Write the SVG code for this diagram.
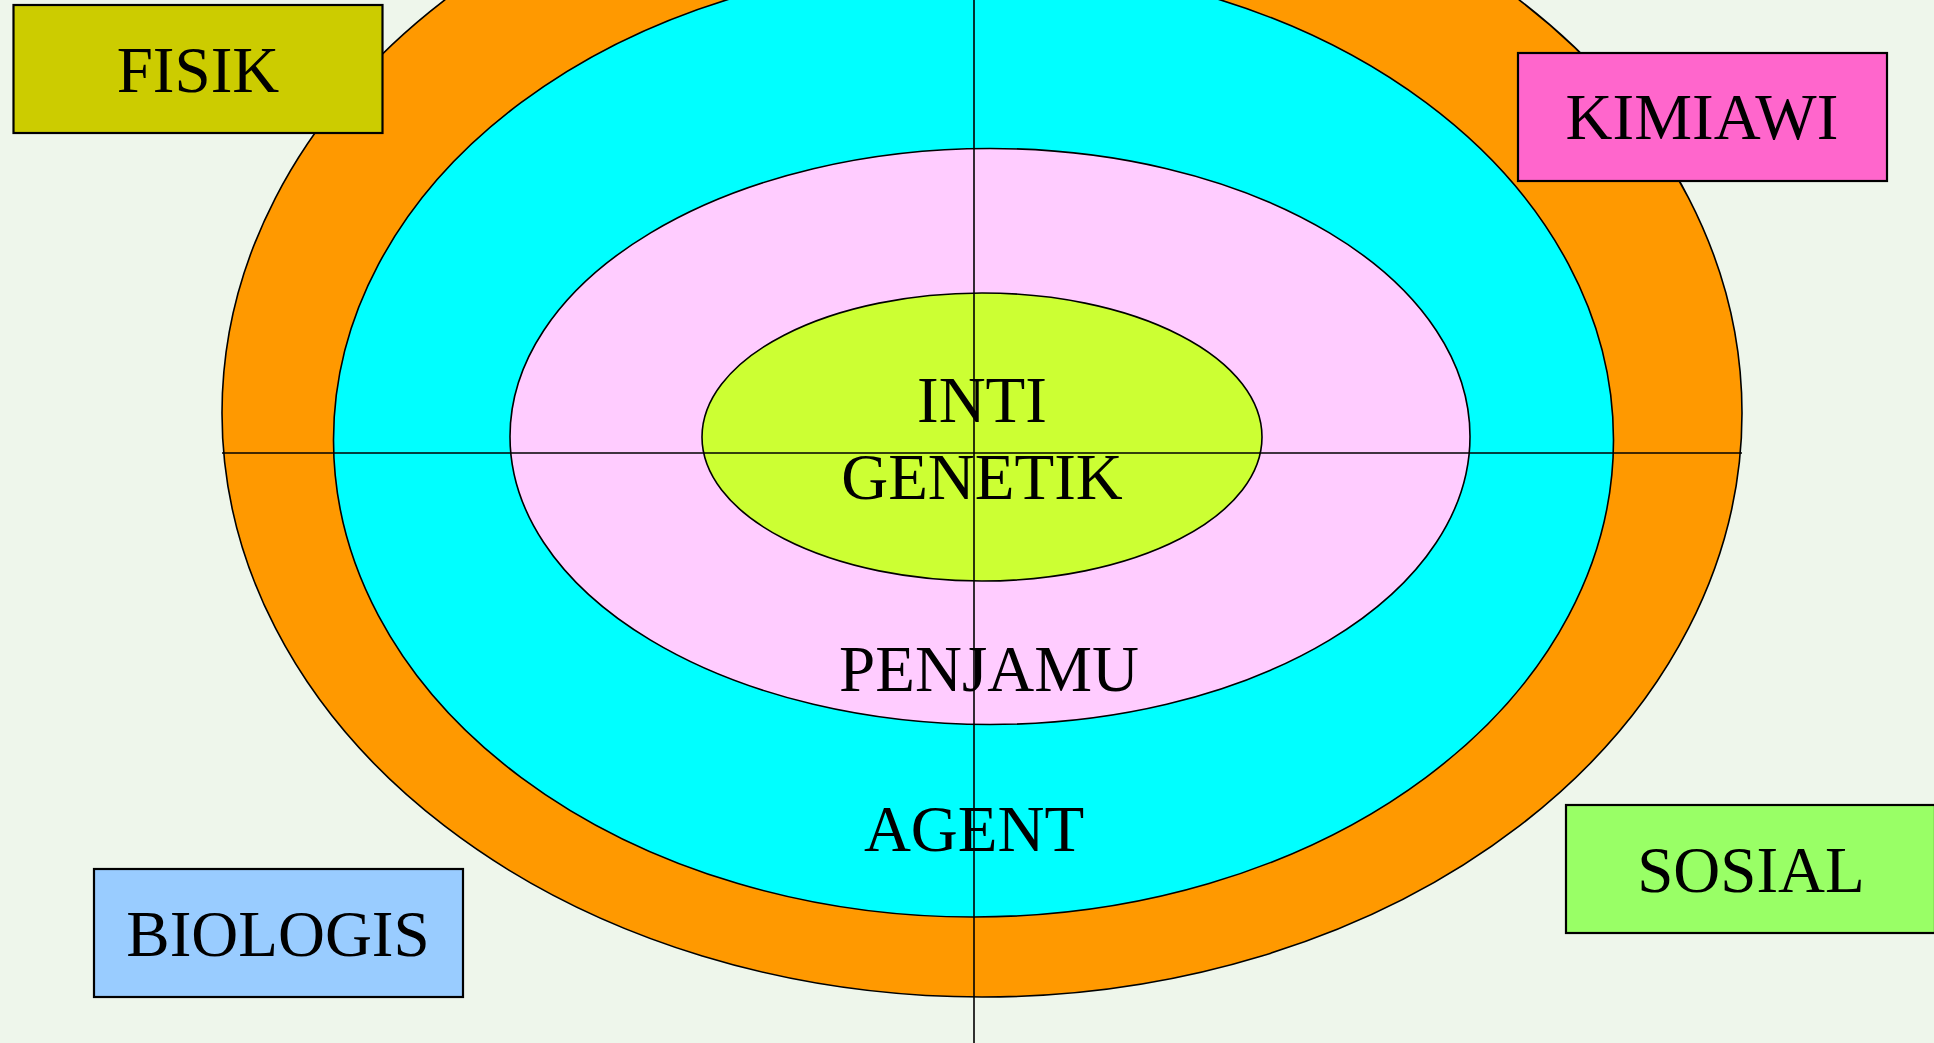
<svg xmlns="http://www.w3.org/2000/svg" width="1934" height="1043" viewBox="0 0 1934 1043">
<style>
.ring{stroke:#000;stroke-width:1.6}
.box{stroke:#000;stroke-width:2.2}
.t{font-family:"Liberation Serif","Times New Roman",serif;font-size:65px;fill:#000;text-anchor:middle}
.ln{stroke:#000;stroke-width:1.6;fill:none}
</style>
<rect x="0" y="0" width="1934" height="1043" fill="#EEF6EB"/>
<g id="rings">
<ellipse id="outer" class="ring" cx="982" cy="413" rx="760" ry="584" fill="#FF9900"/>
<ellipse id="agent" class="ring" cx="973.5" cy="440" rx="640" ry="477" fill="#00FFFF"/>
<ellipse id="penjamu" class="ring" cx="990" cy="436.5" rx="480" ry="288" fill="#FFCCFF"/>
<ellipse id="inti" class="ring" cx="982" cy="437" rx="280" ry="144" fill="#CCFF33"/>
</g>
<g id="connectors">
<line class="ln" x1="222" y1="453" x2="1742" y2="453"/>
<line class="ln" x1="974" y1="0" x2="974" y2="1043"/>
</g>
<g id="labels">
<text class="t" x="982" y="422">INTI</text>
<text class="t" x="982" y="499">GENETIK</text>
<text class="t" x="989" y="691">PENJAMU</text>
<text class="t" x="974" y="851">AGENT</text>
</g>
<g id="fisik">
<rect class="box" x="13.5" y="5" width="369" height="128" fill="#CCCC00"/>
<text class="t" x="198" y="92">FISIK</text>
</g>
<g id="kimiawi">
<rect class="box" x="1518" y="53" width="369" height="128" fill="#FF66CC"/>
<text class="t" x="1702" y="139">KIMIAWI</text>
</g>
<g id="biologis">
<rect class="box" x="94" y="869" width="369" height="128" fill="#99CCFF"/>
<text class="t" x="278" y="956">BIOLOGIS</text>
</g>
<g id="sosial">
<rect class="box" x="1566" y="805" width="369" height="128" fill="#99FF66"/>
<text class="t" x="1751" y="892">SOSIAL</text>
</g>
</svg>
